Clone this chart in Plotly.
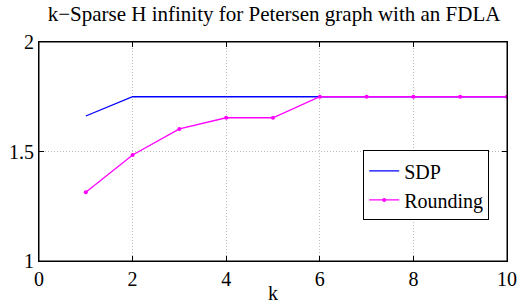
import plotly.graph_objects as go

k_values = [1, 2, 3, 4, 5, 6, 7, 8, 9, 10]
sdp_values = [1.662, 1.75, 1.75, 1.75, 1.75, 1.75, 1.75, 1.75, 1.75, 1.75]
rounding_values = [1.314, 1.484, 1.603, 1.654, 1.654, 1.75, 1.75, 1.75, 1.75, 1.75]
x_ticks = [0, 2, 4, 6, 8, 10]
y_ticks = [1, 1.5, 2]
y_tick_labels = ["1", "1.5", "2"]

FONT = "Liberation Serif, Times New Roman, serif"

fig = go.Figure()
fig.add_trace(go.Scatter(x=k_values, y=sdp_values, mode="lines", name="SDP",
                         line=dict(color="#0000ff", width=1.3)))
fig.add_trace(go.Scatter(x=k_values, y=rounding_values, mode="lines+markers", name="Rounding",
                         line=dict(color="#ff00ff", width=1.3),
                         marker=dict(color="#ff00ff", size=4)))

axis_common = dict(
    ticks="inside", ticklen=5, tickcolor="black",
    showline=True, linecolor="black", linewidth=1, mirror="ticks",
    showgrid=True, gridcolor="#bbbbbb", griddash="1px,2px", gridwidth=1,
    zeroline=False, automargin=False,
    tickfont=dict(family=FONT, size=20, color="black"),
)

fig.update_layout(
    width=520, height=304,
    margin=dict(l=39, r=13, t=42, b=43),
    paper_bgcolor="white", plot_bgcolor="white",
    font=dict(family=FONT, size=20, color="black"),
    title=dict(text="k\u2212Sparse H infinity for Petersen graph with an FDLA",
               x=0.527, xanchor="center", y=0.955, yanchor="middle",
               font=dict(family=FONT, size=21, color="black")),
    xaxis=dict(range=[0, 10], tickvals=x_ticks,
               title=dict(text="k", standoff=0, font=dict(family=FONT, size=20)),
               **axis_common),
    yaxis=dict(range=[1, 2], tickvals=y_ticks, ticktext=y_tick_labels, **axis_common),
    legend=dict(x=0.962, y=0.505, xanchor="right", yanchor="top",
                bordercolor="black", borderwidth=1, bgcolor="white",
                font=dict(family=FONT, size=20), itemwidth=30, tracegroupgap=0),
    showlegend=True,
    shapes=[dict(type="rect", xref="paper", yref="paper", x0=0, y0=0, x1=1, y1=1,
                 line=dict(color="black", width=1), layer="above")],
)

fig.write_html("out.html", config={"displayModeBar": False},
               post_script="document.body.style.margin='0';")
